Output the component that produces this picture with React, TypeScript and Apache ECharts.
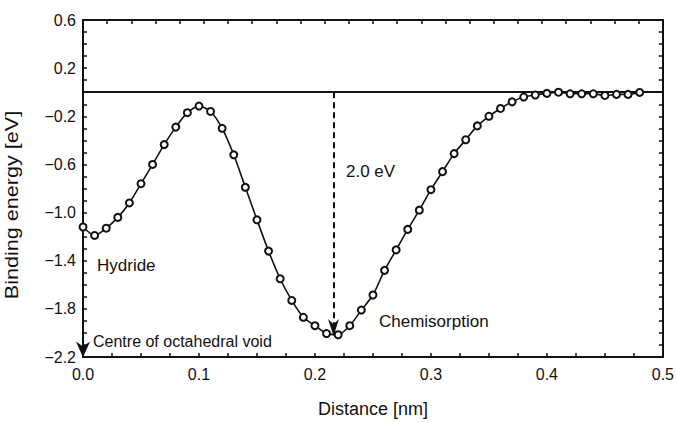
import React, { useEffect, useRef } from "react";
import * as echarts from "echarts";

const distance = [
  0.0, 0.01, 0.02, 0.03, 0.04, 0.05, 0.06, 0.07, 0.08, 0.09,
  0.1, 0.11, 0.12, 0.13, 0.14, 0.15, 0.16, 0.17, 0.18, 0.19,
  0.2, 0.21, 0.22, 0.23, 0.24, 0.25, 0.26, 0.27, 0.28, 0.29,
  0.3, 0.31, 0.32, 0.33, 0.34, 0.35, 0.36, 0.37, 0.38, 0.39,
  0.4, 0.41, 0.42, 0.43, 0.44, 0.45, 0.46, 0.47, 0.48,
];
const energy = [
  -1.12, -1.19, -1.13, -1.04, -0.92, -0.76, -0.6, -0.435, -0.29, -0.17,
  -0.115, -0.16, -0.3, -0.52, -0.79, -1.06, -1.32, -1.55, -1.73, -1.87,
  -1.94, -2.005, -2.015, -1.94, -1.81, -1.685, -1.48, -1.31, -1.14, -0.98,
  -0.81, -0.66, -0.51, -0.395, -0.28, -0.2, -0.135, -0.08, -0.04, -0.023,
  -0.01, 0.0, -0.013, -0.013, -0.013, -0.027, -0.018, -0.018, -0.002,
];
const xTickLabels = [0, 0.1, 0.2, 0.3, 0.4, 0.5];
const yTickLabels = [-2.2, -1.8, -1.4, -1.0, -0.6, -0.2, 0.2, 0.6];
// annotation anchors (data coordinates)
const gapPosition = 0.216;
const gapShaftEnd = -1.97;
const gapHead = [0.216, -1.955];
const voidHead = [0, -2.137];

const FONT = "'Liberation Sans', Arial, sans-serif";
const INK = "#111";
const DART = "path://M0,0 L5,5 L10,0 L5,16 Z";

const isLabel = (v: number, list: number[]) => list.some((t) => Math.abs(t - v) < 1e-6);
const fmt = (v: number) => (v < 0 ? "\u2212" + Math.abs(v).toFixed(1) : v.toFixed(1));

export default function App() {
  const ref = useRef<HTMLDivElement>(null);
  useEffect(() => {
    document.body.style.margin = "0";
    const chart = echarts.init(ref.current!, null, { renderer: "svg" });
    const axisLine = { show: true, onZero: false, lineStyle: { color: INK, width: 2 } };
    const tick = { show: true, inside: true, length: 4, lineStyle: { color: INK, width: 1.5 } };
    chart.setOption({
      animation: false,
      backgroundColor: "#fff",
      grid: { left: 83, right: 13, top: 20, bottom: 56 },
      xAxis: [
        {
          type: "value",
          min: 0,
          max: 0.5,
          interval: 0.025,
          position: "bottom",
          name: "Distance [nm]",
          nameLocation: "middle",
          nameGap: 43,
          nameTextStyle: { fontFamily: FONT, fontSize: 18, color: INK },
          axisLine,
          axisTick: tick,
          splitLine: { show: false },
          axisLabel: {
            fontFamily: FONT,
            fontSize: 16,
            color: INK,
            margin: 9,
            formatter: (v: number) => (isLabel(v, xTickLabels) ? v.toFixed(1) : ""),
          },
        },
        {
          type: "value",
          min: 0,
          max: 24,
          interval: 1,
          position: "top",
          axisLine,
          axisTick: tick,
          axisLabel: { show: false },
          splitLine: { show: false },
        },
      ],
      yAxis: [
        {
          type: "value",
          min: -2.2,
          max: 0.6,
          interval: 0.1,
          position: "left",
          axisLine,
          axisTick: tick,
          splitLine: { show: false },
          axisLabel: {
            fontFamily: FONT,
            fontSize: 16,
            color: INK,
            margin: 7,
            formatter: (v: number) => (isLabel(v, yTickLabels) ? fmt(v) : ""),
          },
        },
        {
          type: "value",
          min: -2.2,
          max: 0.6,
          interval: 0.1,
          position: "right",
          axisLine,
          axisTick: tick,
          axisLabel: { show: false },
          splitLine: { show: false },
        },
      ],
      series: [
        {
          type: "line",
          data: [],
          xAxisIndex: 0,
          yAxisIndex: 0,
          markLine: {
            silent: true,
            symbol: ["none", "none"],
            label: { show: false },
            lineStyle: { color: INK, width: 1.8, type: "solid" },
            data: [[{ coord: [0, 0] }, { coord: [0.5, 0] }]],
          },
        },
        {
          type: "line",
          data: [],
          xAxisIndex: 0,
          yAxisIndex: 0,
          markLine: {
            silent: true,
            symbol: ["none", "none"],
            label: { show: false },
            lineStyle: { color: INK, width: 2, type: [6, 4] },
            data: [[{ coord: [gapPosition, 0] }, { coord: [gapPosition, gapShaftEnd] }]],
          },
        },
        {
          type: "scatter",
          xAxisIndex: 0,
          yAxisIndex: 0,
          silent: true,
          symbol: DART,
          z: 6,
          itemStyle: { color: INK, opacity: 1 },
          data: [
            { value: gapHead, symbolSize: [11, 17] },
            { value: voidHead, symbolSize: [14, 16] },
          ],
        },
        {
          type: "line",
          xAxisIndex: 0,
          yAxisIndex: 0,
          data: distance.map((d, i) => [d, energy[i]]),
          smooth: 0.25,
          symbol: "emptyCircle",
          symbolSize: 7,
          showSymbol: true,
          lineStyle: { color: INK, width: 1.6 },
          itemStyle: { color: INK, borderColor: INK, borderWidth: 1.5 },
          z: 5,
        },
      ],
      graphic: [
        {
          type: "text",
          x: 12,
          y: 205,
          rotation: Math.PI / 2,
          scaleX: 1.2,
          style: {
            text: "Binding energy [eV]",
            font: `18px ${FONT}`,
            fill: INK,
            align: "center",
            verticalAlign: "middle",
          },
        },
        { type: "text", left: 346, top: 163, style: { text: "2.0 eV", font: `17px ${FONT}`, fill: INK } },
        { type: "text", left: 97, top: 257, style: { text: "Hydride", font: `17px ${FONT}`, fill: INK } },
        { type: "text", left: 93, top: 333, style: { text: "Centre of octahedral void", font: `16px ${FONT}`, fill: INK } },
        { type: "text", left: 379, top: 313, style: { text: "Chemisorption", font: `17px ${FONT}`, fill: INK } },
      ],
    });
    return () => chart.dispose();
  }, []);
  return <div ref={ref} style={{ width: 677, height: 423 }} />;
}
